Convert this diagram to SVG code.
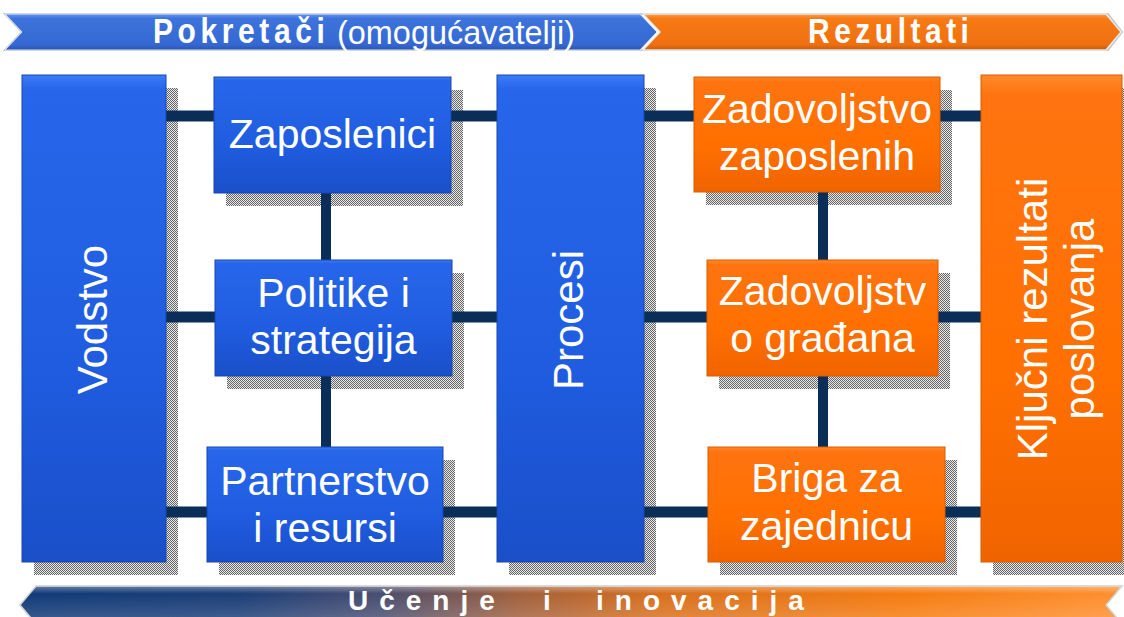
<svg xmlns="http://www.w3.org/2000/svg" width="1124" height="617" viewBox="0 0 1124 617">
<defs>
<style>
.t{font-family:"Liberation Sans",Arial,sans-serif;fill:#fff}
.bx{font-size:41px;text-anchor:middle}
.vx{font-size:42px;text-anchor:middle}
.ban{font-size:30px;font-weight:bold}
.bb{font-size:28px;font-weight:bold;letter-spacing:11px}
.blue{fill:url(#gBlue);stroke:#1846b0;stroke-width:1}
.orng{fill:url(#gOrange);stroke:#d85c00;stroke-width:1}
.shd{fill:url(#dots)}
.con{stroke:#0b2e58;stroke-width:11;fill:none}
.conv{stroke:#0b2e58;stroke-width:10;fill:none}
</style>
<pattern id="dots" width="2" height="2" patternUnits="userSpaceOnUse">
<rect width="2" height="2" fill="#e8e8e8"/>
<rect x="0" y="0" width="1" height="1" fill="#666"/>
<rect x="1" y="1" width="1" height="1" fill="#666"/>
</pattern>
<linearGradient id="gBlue" x1="0" y1="0" x2="0" y2="1">
<stop offset="0" stop-color="#3a7cf8"/>
<stop offset="0.03" stop-color="#2766ea"/>
<stop offset="0.6" stop-color="#1f5ce0"/>
<stop offset="1" stop-color="#1a4fc8"/>
</linearGradient>
<linearGradient id="gOrange" x1="0" y1="0" x2="0" y2="1">
<stop offset="0" stop-color="#ff8a2a"/>
<stop offset="0.04" stop-color="#ff7410"/>
<stop offset="0.6" stop-color="#ff7000"/>
<stop offset="1" stop-color="#f06400"/>
</linearGradient>
<linearGradient id="gBanBlue" x1="0" y1="0" x2="0" y2="1">
<stop offset="0" stop-color="#6a98f0"/>
<stop offset="0.12" stop-color="#3d73dc"/>
<stop offset="0.85" stop-color="#3568d2"/>
<stop offset="1" stop-color="#2a55b0"/>
</linearGradient>
<linearGradient id="gBanOr" x1="0" y1="0" x2="0" y2="1">
<stop offset="0" stop-color="#ffa050"/>
<stop offset="0.12" stop-color="#f77a14"/>
<stop offset="0.85" stop-color="#f07010"/>
<stop offset="1" stop-color="#c85a08"/>
</linearGradient>
<linearGradient id="gBottom" x1="0" y1="0" x2="1" y2="0">
<stop offset="0" stop-color="#123a78"/>
<stop offset="0.2" stop-color="#1c3f78"/>
<stop offset="0.33" stop-color="#4a4e70"/>
<stop offset="0.45" stop-color="#a0603e"/>
<stop offset="0.58" stop-color="#d8701e"/>
<stop offset="0.8" stop-color="#f57c10"/>
<stop offset="1" stop-color="#ff9030"/>
</linearGradient>
<linearGradient id="gBotHi" x1="0" y1="0" x2="0" y2="1">
<stop offset="0" stop-color="#fff" stop-opacity="0.35"/>
<stop offset="0.2" stop-color="#fff" stop-opacity="0"/>
<stop offset="0.7" stop-color="#fff" stop-opacity="0.12"/>
<stop offset="1" stop-color="#fff" stop-opacity="0.2"/>
</linearGradient>
</defs>
<rect width="1124" height="617" fill="#fff"/>

<g id="banner-top">
<polygon points="5,14 1108,14 1122,32 1108,50 5,50 22,32" fill="none" stroke="#c8c8c8" stroke-width="2"/>
<polygon points="5,14 640,14 657,32 640,50 5,50 22,32" fill="url(#gBanBlue)" stroke="#dfe6f5" stroke-width="1"/>
<polygon points="643,14 1106,14 1121,32 1106,50 643,50 660,32" fill="url(#gBanOr)" stroke="#e8e8e8" stroke-width="1.5"/>
<text class="t ban" transform="translate(153 43) scale(1 1.15)" style="letter-spacing:4.6px">Pokretači</text>
<text class="t" transform="translate(337 44) scale(1 1.12)" font-size="30" textLength="238" lengthAdjust="spacingAndGlyphs">(omogućavatelji)</text>
<text class="t ban" transform="translate(808 43) scale(1 1.15)" style="letter-spacing:4.5px">Rezultati</text>
</g>

<g id="shadows">
<rect class="shd" x="34" y="88" width="144" height="487"/>
<rect class="shd" x="509" y="88" width="147" height="487"/>
<rect class="shd" x="993" y="88" width="141" height="487"/>
<rect class="shd" x="226" y="90" width="237" height="116"/>
<rect class="shd" x="227" y="273" width="237" height="116"/>
<rect class="shd" x="219" y="460" width="236" height="115"/>
<rect class="shd" x="706" y="90" width="246" height="115"/>
<rect class="shd" x="719" y="273" width="231" height="116"/>
<rect class="shd" x="720" y="460" width="237" height="115"/>
</g>

<g id="connectors">
<line class="con" x1="166" y1="116" x2="981" y2="116"/>
<line class="con" x1="166" y1="317" x2="981" y2="317"/>
<line class="con" x1="166" y1="512" x2="981" y2="512"/>
<line class="conv" x1="326" y1="193" x2="326" y2="260"/>
<line class="conv" x1="326" y1="376" x2="326" y2="447"/>
<line class="conv" x1="823" y1="192" x2="823" y2="260"/>
<line class="conv" x1="823" y1="376" x2="823" y2="447"/>
</g>

<g id="vodstvo">
<rect class="blue" x="22" y="75" width="144" height="487"/>
<text class="t vx" transform="translate(107 319.5) rotate(-90)">Vodstvo</text>
</g>
<g id="zaposlenici">
<rect class="blue" x="214" y="77" width="237" height="116"/>
<text class="t bx" x="332.5" y="148">Zaposlenici</text>
</g>
<g id="politike">
<rect class="blue" x="215" y="260" width="237" height="116"/>
<text class="t bx" x="333.5" y="307">Politike i</text>
<text class="t bx" x="333.5" y="354">strategija</text>
</g>
<g id="partnerstvo">
<rect class="blue" x="207" y="447" width="236" height="115"/>
<text class="t bx" x="325" y="495">Partnerstvo</text>
<text class="t bx" x="325" y="542">i resursi</text>
</g>
<g id="procesi">
<rect class="blue" x="497" y="75" width="147" height="487"/>
<text class="t vx" transform="translate(583 320) rotate(-90)">Procesi</text>
</g>
<g id="zad-zaposlenih">
<rect class="orng" x="694" y="77" width="246" height="115"/>
<text class="t bx" x="817" y="123">Zadovoljstvo</text>
<text class="t bx" x="817" y="170">zaposlenih</text>
</g>
<g id="zad-gradana">
<rect class="orng" x="707" y="260" width="231" height="116"/>
<text class="t bx" x="822.5" y="305">Zadovoljstv</text>
<text class="t bx" x="822.5" y="352">o građana</text>
</g>
<g id="briga">
<rect class="orng" x="708" y="447" width="237" height="115"/>
<text class="t bx" x="826.5" y="492">Briga za</text>
<text class="t bx" x="826.5" y="540">zajednicu</text>
</g>
<g id="kljucni">
<rect class="orng" x="981" y="75" width="141" height="487"/>
<text class="t vx" transform="translate(1047 319) rotate(-90)">Ključni rezultati</text>
<text class="t vx" transform="translate(1094 319) rotate(-90)">poslovanja</text>
</g>

<g id="banner-bottom">
<polygon points="36,586 1122,586 1106,605 1122,624 36,624 20,605" fill="url(#gBottom)" stroke="#d0d0d0" stroke-width="1.5"/>
<polygon points="36,586 1122,586 1106,605 1122,624 36,624 20,605" fill="url(#gBotHi)"/>
<text class="t bb" x="348" y="610">Učenje</text>
<text class="t bb" x="543" y="610">i</text>
<text class="t bb" x="596" y="610">inovacija</text>
</g>
</svg>
